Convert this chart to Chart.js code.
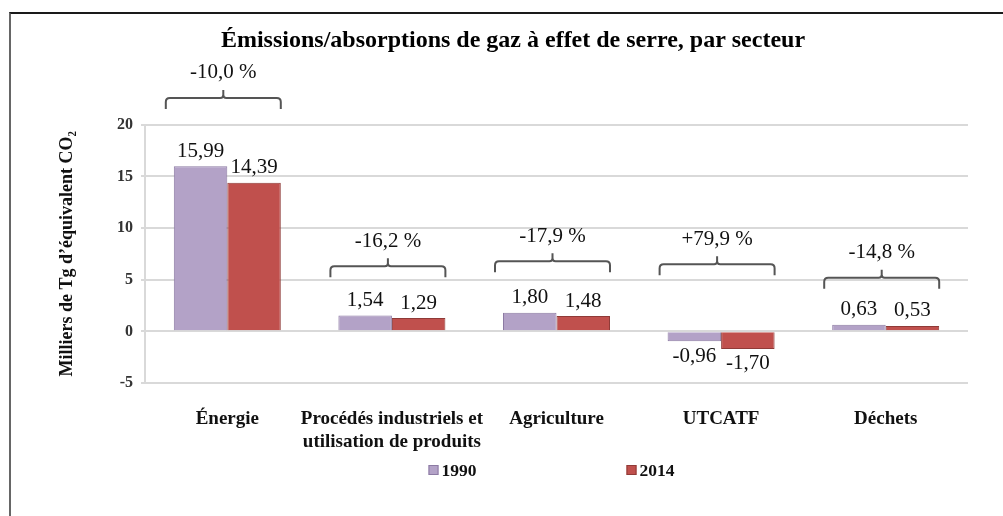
<!DOCTYPE html>
<html>
<head>
<meta charset="utf-8">
<title>Émissions/absorptions de gaz à effet de serre, par secteur</title>
<script src="https://cdn.jsdelivr.net/npm/chart.js"></script>
<style>
  html, body { margin: 0; padding: 0; background: #fff; overflow: hidden; }
  #frame { position: absolute; left: 9px; top: 12px; width: 1100px; height: 600px;
           border-top: 2px solid #1a1a1a; border-left: 2px solid #666; }
  #wrap { position: absolute; left: 11px; top: 14px; width: 1004px; height: 502px; }
</style>
</head>
<body>
<div id="frame"></div>
<div id="wrap"><canvas id="chart"></canvas></div>
<script>
// values
const sectors = ["Énergie", ["Procédés industriels et", "utilisation de produits"], "Agriculture", "UTCATF", "Déchets"];
const values1990 = [15.99, 1.54, 1.80, -0.96, 0.63];
const values2014 = [14.39, 1.29, 1.48, -1.70, 0.53];
const changes = ["-10,0 %", "-16,2 %", "-17,9 %", "+79,9 %", "-14,8 %"];
const yTicks = [-5, 0, 5, 10, 15, 20];

const SERIF = "'Liberation Serif', 'Times New Roman', Times, serif";

// value labels, braces with % change, and the spaced-out legend
const annotations = {
  id: "annotations",
  afterDatasetsDraw(chart, args, opts) {
    const ctx = chart.ctx;
    const y = chart.scales.y;
    const area = chart.chartArea;
    ctx.save();

    ctx.font = "21px " + SERIF;
    ctx.fillStyle = "#111";
    ctx.textAlign = "center";
    ctx.textBaseline = "middle";
    chart.data.datasets.forEach((ds, i) => {
      chart.getDatasetMeta(i).data.forEach((bar, j) => {
        const v = ds.data[j];
        const ty = v >= 0 ? bar.y - 15 : bar.y + 15;
        ctx.fillText(v.toFixed(2).replace(".", ","), bar.x, ty);
      });
    });

    const m0 = chart.getDatasetMeta(0).data;
    const m1 = chart.getDatasetMeta(1).data;
    ctx.strokeStyle = "#555";
    ctx.lineWidth = 2;
    changes.forEach((txt, j) => {
      const x0 = m0[j].x - m0[j].width / 2 - 8;
      const x1 = m1[j].x + m1[j].width / 2;
      const cx = (x0 + x1) / 2;
      const ly = y.getPixelForValue(opts.levels[j]);
      const r = 4;
      ctx.beginPath();
      ctx.moveTo(x0, ly + 11);
      ctx.lineTo(x0, ly + r);
      ctx.quadraticCurveTo(x0, ly, x0 + r, ly);
      ctx.lineTo(cx - 3, ly);
      ctx.quadraticCurveTo(cx, ly, cx, ly - 3);
      ctx.lineTo(cx, ly - 8);
      ctx.moveTo(cx, ly - 3);
      ctx.quadraticCurveTo(cx, ly, cx + 3, ly);
      ctx.lineTo(x1 - r, ly);
      ctx.quadraticCurveTo(x1, ly, x1, ly + r);
      ctx.lineTo(x1, ly + 11);
      ctx.stroke();
      ctx.fillText(txt, cx, ly - 25);
    });

    // legend
    ctx.font = "bold 17.5px " + SERIF;
    ctx.textAlign = "left";
    ctx.lineWidth = 1;
    const items = chart.data.datasets.map(ds => ({
      text: ds.label, fill: ds.backgroundColor, stroke: ds.borderColor,
      w: 13 + ctx.measureText(ds.label).width
    }));
    const gap = 150;
    const total = items.reduce((s, it) => s + it.w, 0) + gap * (items.length - 1);
    let lx = (area.left + area.right) / 2 - total / 2 - 5;
    const legY = area.bottom + 87;
    items.forEach(it => {
      ctx.fillStyle = it.fill;
      ctx.fillRect(lx, legY - 5, 10, 10);
      ctx.strokeStyle = it.stroke;
      ctx.strokeRect(lx + 0.5, legY - 4.5, 9, 9);
      ctx.fillStyle = "#111";
      ctx.fillText(it.text, lx + 13, legY + 1);
      lx += it.w + gap;
    });
    ctx.restore();
  }
};

new Chart(document.getElementById("chart"), {
  type: "bar",
  data: {
    labels: sectors,
    datasets: [
      { label: "1990", data: values1990, backgroundColor: "#b3a2c7", borderColor: "#8c7aa3", borderWidth: 1 },
      { label: "2014", data: values2014, backgroundColor: "#c0504d", borderColor: "#8f3a37", borderWidth: 1 }
    ]
  },
  options: {
    responsive: true,
    maintainAspectRatio: false,
    animation: false,
    devicePixelRatio: 1,
    categoryPercentage: 0.65,
    barPercentage: 1.0,
    layout: { padding: 0 },
    plugins: {
      legend: { display: false },
      tooltip: { enabled: false },
      title: {
        display: true,
        text: "Émissions/absorptions de gaz à effet de serre, par secteur",
        color: "#000",
        font: { family: SERIF, size: 24, weight: "bold" },
        padding: { top: 12, bottom: 70 }
      },
      annotations: { levels: [22.6, 6.3, 6.8, 6.5, 5.2] }
    },
    scales: {
      x: {
        grid: { display: false, drawTicks: false },
        border: { display: false },
        ticks: {
          color: "#111",
          padding: 25,
          maxRotation: 0,
          autoSkip: false,
          font: { family: SERIF, size: 19, weight: "bold", lineHeight: 1.21 }
        },
        afterFit: s => { s.height = 133; }
      },
      y: {
        min: yTicks[0],
        max: yTicks[yTicks.length - 1],
        afterBuildTicks: s => { s.ticks = yTicks.map(v => ({ value: v })); },
        grid: { color: "#d9d9d9", lineWidth: 2, tickLength: 4 },
        border: { color: "#d9d9d9", width: 2 },
        ticks: { color: "#333", padding: 8, font: { family: SERIF, size: 16, weight: "bold" } },
        title: {
          display: true,
          text: "Milliers de Tg d’équivalent CO₂",
          color: "#111",
          font: { family: SERIF, size: 18, weight: "bold" },
          padding: { top: 46 }
        },
        afterFit: s => { s.width = 134; }
      },
      // empty right margin so the title centres like the original
      yRight: {
        type: "linear",
        position: "right",
        grid: { display: false },
        border: { display: false },
        ticks: { display: false },
        afterFit: s => { s.width = 47; }
      }
    }
  },
  plugins: [annotations]
});
</script>
</body>
</html>
